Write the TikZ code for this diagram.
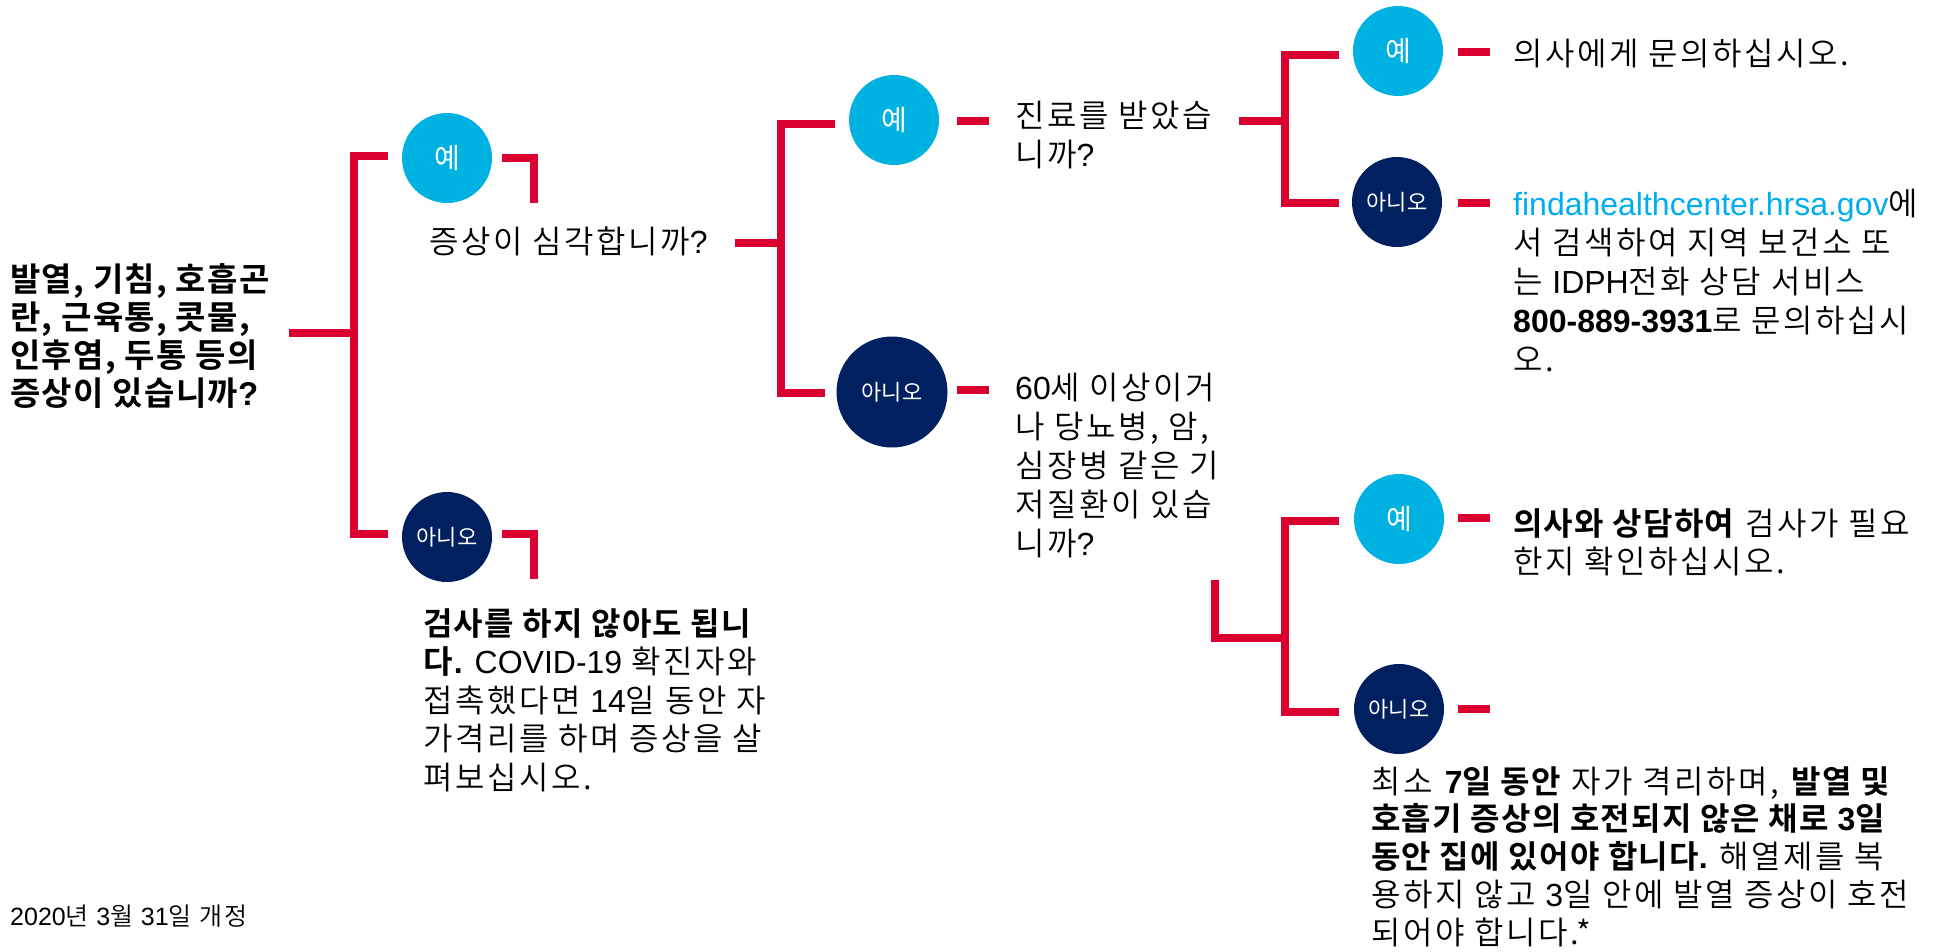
\documentclass[tikz,border=0pt]{standalone}
\usepackage{fontspec}
\IfFontExistsTF{Noto Sans CJK KR Bold}
  {\IfFontExistsTF{Noto Sans CJK KR DemiLight}
     {\setmainfont{Noto Sans CJK KR DemiLight}[LetterSpace=8,BoldFont={Noto Sans CJK KR Bold},BoldFeatures={LetterSpace=4}]}
     {\setmainfont{Noto Sans CJK KR}[LetterSpace=8,BoldFont={Noto Sans CJK KR Bold},BoldFeatures={LetterSpace=4}]}}
  {\setmainfont{Noto Sans CJK KR}[LetterSpace=8]}
\newfontfamily\krreg{Noto Sans CJK KR}
\newfontfamily\lat{Liberation Sans}
\newcommand\la[1]{{\lat #1}}
\newcommand\ml[2][38.8pt]{\vtop{\baselineskip=#1\lineskiplimit=-1000pt\lineskip=0pt\relax #2}}
\definecolor{cRed}{HTML}{DA0030}
\definecolor{cBlue}{HTML}{00B2E2}
\definecolor{cNavy}{HTML}{002060}
\definecolor{cLink}{HTML}{00AEEF}
\begin{document}
\begin{tikzpicture}[x=1pt,y=-1pt,
  rline/.style={draw=cRed,line width=8pt,line join=miter},
  yesc/.style={circle,fill=cBlue,minimum size=90pt,inner sep=0pt,text=white,font=\krreg\fontsize{28}{28}\selectfont},
  noc/.style={circle,fill=cNavy,minimum size=90pt,inner sep=0pt,text=white,font=\krreg\fontsize{22}{22}\selectfont},
  txt/.style={anchor=base west,inner sep=0pt,text=black,font=\fontsize{32}{38.8}\selectfont}]
\fill[white] (0,0) rectangle (1948,951);
\useasboundingbox (0,0) rectangle (1948,951);

% circles
\node[yesc] (y1) at (447,158) {예};
\node[noc]  (n1) at (447,537) {아니오};
\node[yesc] (y2) at (894,120) {예};
\node[noc,minimum size=111pt] (n2) at (892,392) {아니오};
\node[yesc] (y3) at (1398,51) {예};
\node[noc]  (n3) at (1397,202) {아니오};
\node[yesc] (y4) at (1399,519) {예};
\node[noc]  (n4) at (1399,709) {아니오};

% texts
\node[txt,font=\fontsize{33}{38}\selectfont] (q1) at (10,291) {\bfseries\ml[38pt]{\hbox{발열, 기침, 호흡곤}\hbox{란, 근육통, 콧물,}\hbox{인후염, 두통 등의}\hbox{증상이 있습니까\la{?}}}};
\node[txt] (q2) at (429,253) {증상이 심각합니까\la{?}};
\node[txt] (a1) at (423,635) {\ml[38.5pt]{\hbox{\textbf{검사를 하지 않아도 됩니}}\hbox{\textbf{다}\la{\textbf{.} COVID-19 }확진자와}\hbox{접촉했다면 \la{14}일 동안 자}\hbox{가격리를 하며 증상을 살}\hbox{펴보십시오.}}};
\node[txt] (q3) at (1015,127) {\ml[39pt]{\hbox{진료를 받았습}\hbox{니까\la{?}}}};
\node[txt] (q4) at (1015,399) {\ml[39pt]{\hbox{\la{60}세 이상이거}\hbox{나 당뇨병, 암,}\hbox{심장병 같은 기}\hbox{저질환이 있습}\hbox{니까\la{?}}}};
\node[txt] (a2) at (1513,65) {의사에게 문의하십시오.};
\node[txt] (a3) at (1513,215) {\ml[39pt]{\hbox{{\color{cLink}\la{findahealthcenter.hrsa.gov}}에}\hbox{서 검색하여 지역 보건소 또}\hbox{는 \la{IDPH}전화 상담 서비스}\hbox{\textbf{\la{800-889-3931}}로 문의하십시}\hbox{오.}}};
\node[txt] (a4) at (1513,535) {\ml[38pt]{\hbox{\textbf{의사와 상담하여} 검사가 필요}\hbox{한지 확인하십시오.}}};
\node[txt] (a5) at (1371,793) {\ml[37.8pt]{\hbox{최소 \textbf{\la{7}일 동안} 자가 격리하며, \textbf{발열 및}}\hbox{\textbf{호흡기 증상의 호전되지 않은 채로 \la{3}일}}\hbox{\textbf{동안 집에 있어야 합니다\la{.}}\la{ }해열제를 복}\hbox{용하지 않고 \la{3}일 안에 발열 증상이 호전}\hbox{되어야 합니다.*}}};
\node[txt,font=\fontsize{25}{28}\selectfont] (ft) at (10,925) {\la{2020}년 \la{3}월 \la{31}일 개정};

% level 1 connectors
\coordinate (s1a) at (289,333); \coordinate (s1b) at (354,333);
\coordinate (b1t) at (388,156); \coordinate (b1tv) at (354,156);
\coordinate (b1bv) at (354,534); \coordinate (b1b) at (388,534);
\draw[rline] (s1a) -- (s1b);
\draw[rline] (b1t) -- (b1tv) -- (b1bv) -- (b1b);
\coordinate (h1a) at (502,158); \coordinate (h1b) at (534,158); \coordinate (h1c) at (534,203);
\draw[rline] (h1a) -- (h1b) -- (h1c);
\coordinate (h2a) at (502,534); \coordinate (h2b) at (534,534); \coordinate (h2c) at (534,579);
\draw[rline] (h2a) -- (h2b) -- (h2c);

% level 2 connectors
\coordinate (s2a) at (735,243); \coordinate (s2b) at (781,243);
\coordinate (b2t) at (835,124); \coordinate (b2tv) at (781,124);
\coordinate (b2bv) at (781,393); \coordinate (b2b) at (825,393);
\draw[rline] (s2a) -- (s2b);
\draw[rline] (b2t) -- (b2tv) -- (b2bv) -- (b2b);
\coordinate (d2a) at (957,121); \coordinate (d2b) at (989,121);
\coordinate (d3a) at (957,390); \coordinate (d3b) at (989,390);
\draw[rline] (d2a) -- (d2b);
\draw[rline] (d3a) -- (d3b);

% level 3 top
\coordinate (s3a) at (1239,121); \coordinate (s3b) at (1285,121);
\coordinate (b3t) at (1339,55); \coordinate (b3tv) at (1285,55);
\coordinate (b3bv) at (1285,203); \coordinate (b3b) at (1339,203);
\draw[rline] (s3a) -- (s3b);
\draw[rline] (b3t) -- (b3tv) -- (b3bv) -- (b3b);
\coordinate (d4a) at (1458,52); \coordinate (d4b) at (1490,52);
\coordinate (d5a) at (1458,203); \coordinate (d5b) at (1490,203);
\draw[rline] (d4a) -- (d4b);
\draw[rline] (d5a) -- (d5b);

% level 3 bottom
\coordinate (s4a) at (1215,580); \coordinate (s4c) at (1215,638); \coordinate (s4b) at (1285,638);
\draw[rline] (s4a) -- (s4c) -- (s4b);
\coordinate (b4t) at (1339,521); \coordinate (b4tv) at (1285,521);
\coordinate (b4bv) at (1285,712); \coordinate (b4b) at (1339,712);
\draw[rline] (b4t) -- (b4tv) -- (b4bv) -- (b4b);
\coordinate (d6a) at (1458,518); \coordinate (d6b) at (1490,518);
\coordinate (d7a) at (1458,709); \coordinate (d7b) at (1490,709);
\draw[rline] (d6a) -- (d6b);
\draw[rline] (d7a) -- (d7b);
\end{tikzpicture}
\end{document}
